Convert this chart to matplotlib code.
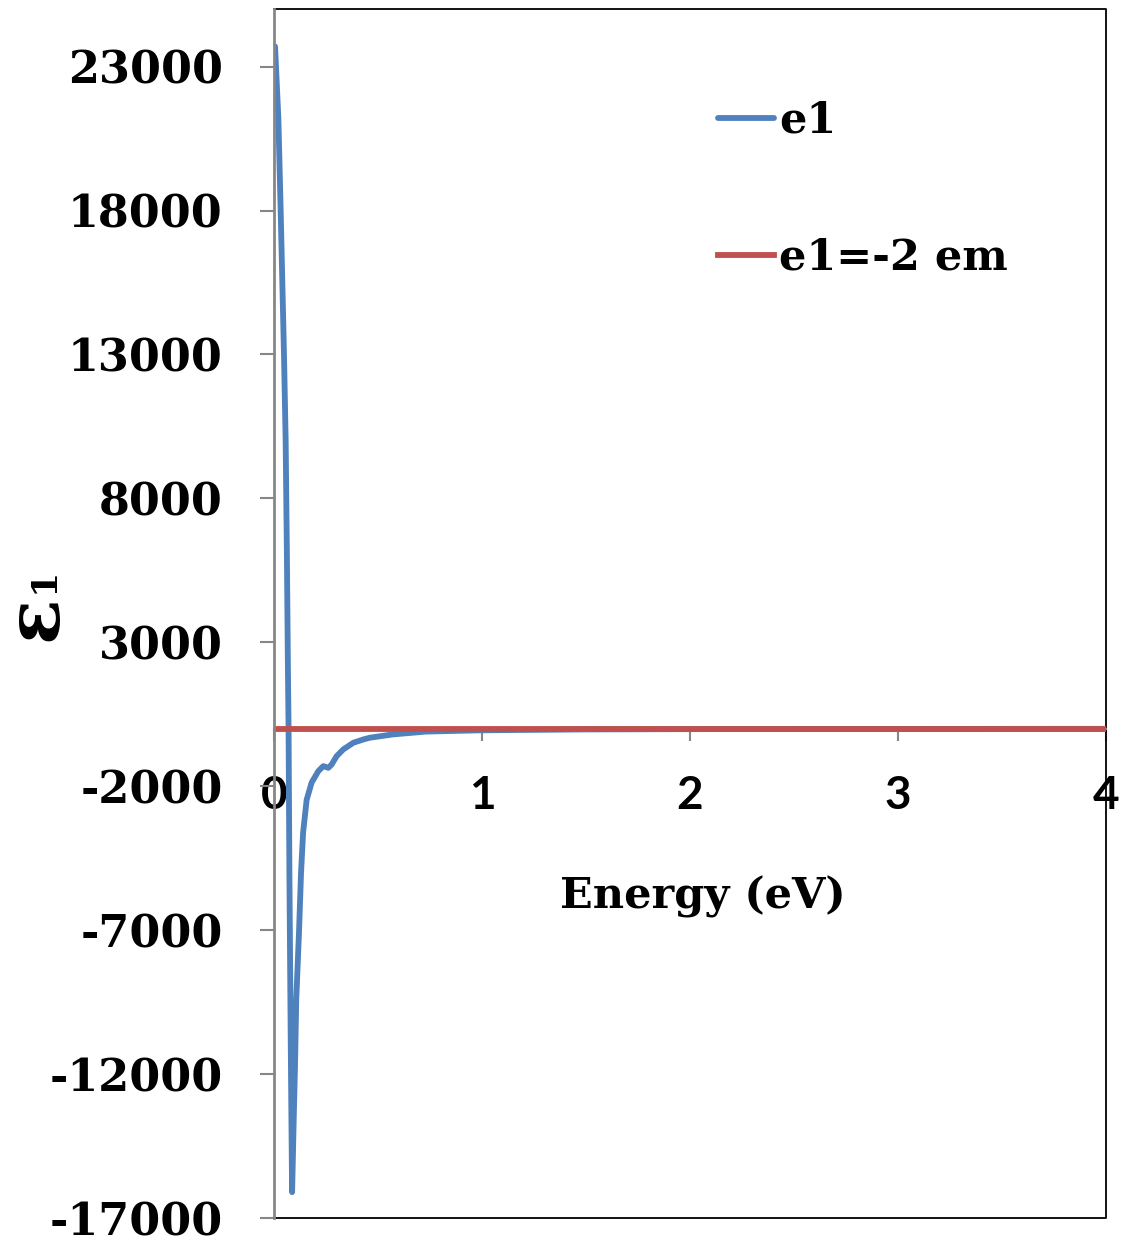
import numpy as np
import matplotlib.pyplot as plt

plt.rcParams['axes.unicode_minus'] = False

# dados
energia = [0.005, 0.012, 0.021, 0.032, 0.041, 0.048, 0.056, 0.062, 0.067, 0.070,
           0.074, 0.080, 0.084, 0.087, 0.095, 0.101, 0.107, 0.120, 0.130, 0.140,
           0.157, 0.181, 0.213, 0.237, 0.261, 0.277, 0.301, 0.333, 0.381, 0.429,
           0.460, 0.570, 0.730, 1.00, 1.50, 2.00, 3.00, 4.00]
e1 = [23700, 22600, 21200, 18000, 15200, 13000, 10000, 6000, 2000, 0,
      -5000, -10500, -13800, -16100, -13500, -11700, -9400, -7100, -5000, -3600,
      -2470, -1870, -1475, -1300, -1360, -1245, -955, -720, -490, -375,
      -315, -200, -100, -55, -25, -15, -8, -5]

energia_ref = [0, 4]
e1_ref = [-3.5, -3.5]  # e1 = -2 em

yticks = [-17000, -12000, -7000, -2000, 3000, 8000, 13000, 18000, 23000]
xticks = [0, 1, 2, 3, 4]

azul = '#4F81BD'
vermelho = '#C0504D'
cinza = '#868686'

fig = plt.figure(figsize=(11.29, 12.41), dpi=100)
ax = fig.add_axes([0.2427, 0.0185, 0.7369, 0.9742])

ax.plot(energia, e1, color=azul, lw=4.2, solid_capstyle='round',
        solid_joinstyle='round', label='e1', zorder=3)
ax.plot(energia_ref, e1_ref, color=vermelho, lw=4.2, label='e1=-2 em', zorder=4)

ax.set_xlim(0, 4)
ax.set_ylim(-17000, 25000)
ax.set_yticks(yticks)
ax.set_xticks(xticks)

# eixo x passando pelo zero
ax.spines['bottom'].set_position(('data', 0))
ax.spines['bottom'].set_color(cinza)
ax.spines['bottom'].set_linewidth(1.5)
ax.spines['left'].set_color(cinza)
ax.spines['left'].set_linewidth(2)
ax.spines['left'].set_zorder(5)
ax.spines['top'].set_visible(False)
ax.spines['right'].set_visible(False)
# moldura da area do grafico
ax.plot([0, 1, 1, 0], [1, 1, 0, 0], transform=ax.transAxes, color='black',
        lw=1.3, clip_on=False, zorder=2)

ax.tick_params(axis='y', direction='out', length=10, width=1.5, color=cinza, pad=27)
ax.tick_params(axis='x', direction='out', length=8.5, width=1.5, color=cinza, pad=25)
for lab in ax.get_yticklabels():
    lab.set_fontfamily('DejaVu Serif')
    lab.set_fontweight('bold')
    lab.set_fontsize(32)
for lab in ax.get_xticklabels():
    lab.set_fontfamily('Lato')
    lab.set_fontweight('bold')
    lab.set_fontsize(33)

ax.set_xlabel('Energy (eV)', fontfamily='DejaVu Serif', fontweight='bold', fontsize=31)
ax.xaxis.set_label_coords(0.516, 0.283)

# rotulo do eixo y: epsilon com indice 1
fig.text(36 / 1129, 1 - 618 / 1241, 'ε', rotation=90, ha='center', va='center',
         fontfamily='DejaVu Serif', fontweight='bold', fontsize=54)
fig.text(44 / 1129, 1 - 580 / 1241, '1', rotation=90, ha='center', va='center',
         fontfamily='DejaVu Serif', fontweight='bold', fontsize=26)

ax.legend(loc='upper left', bbox_to_anchor=(0.534, 0.925), frameon=False,
          prop={'family': 'DejaVu Serif', 'weight': 'bold', 'size': 31},
          handlelength=1.3, handletextpad=0.12, labelspacing=2.21,
          borderpad=0, borderaxespad=0)

fig.savefig('out.png', dpi=100)
